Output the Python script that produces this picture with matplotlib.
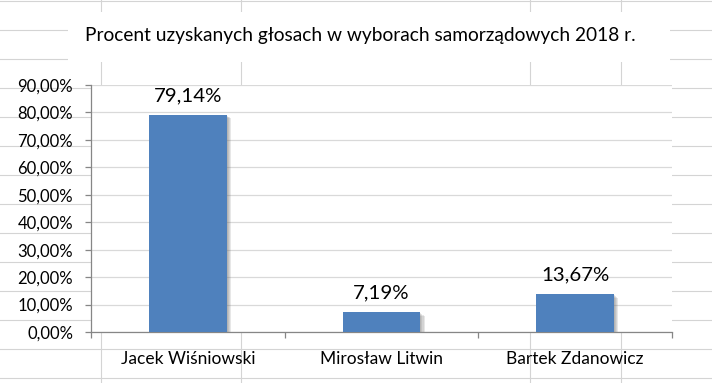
import matplotlib
matplotlib.use("Agg")
import matplotlib.pyplot as plt
import matplotlib.patheffects as pe
from matplotlib.lines import Line2D
from matplotlib.patches import Rectangle

categories = ["Jacek Wiśniowski", "Mirosław Litwin", "Bartek Zdanowicz"]
values = [79.14, 7.19, 13.67]
y_ticks = [0, 10, 20, 30, 40, 50, 60, 70, 80, 90]

W, H = 712, 383
BAR_COLOR = "#4f81bd"
GRID = "#d9d9d9"
CELL = "#d4d4d4"
AXIS = "#868686"

plt.rcParams["font.family"] = ["Lato", "DejaVu Sans"]

fig = plt.figure(figsize=(W / 100, H / 100), dpi=100)
fig.patch.set_facecolor("white")


def fx(px):
    return px / W


def fy(py):
    return 1 - py / H


def cell_line(x0, x1, y0, y1):
    fig.add_artist(Line2D([fx(x0), fx(x1)], [fy(y0), fy(y1)],
                          transform=fig.transFigure, color=CELL,
                          linewidth=0.8, zorder=-2))


# spreadsheet cell grid behind the chart
plot_l, plot_r, plot_t, plot_b = 91, 672, 85, 332
for yy in range(1, H, 29):
    if yy < 12 or yy > plot_b:
        cell_line(0, W, yy, yy)
    elif yy < 66:
        cell_line(0, 68, yy, yy)
        cell_line(670, W, yy, yy)
    else:
        cell_line(0, plot_l, yy, yy)
        cell_line(plot_r, W, yy, yy)
for xx in [101, 241, 530, 621]:
    cell_line(xx, xx, 0, 12)
    cell_line(xx, xx, 62, plot_t)
    cell_line(xx, xx, plot_b, H)

# white box behind the title
fig.add_artist(Rectangle((fx(68), fy(62)), fx(670) - fx(68), fy(12) - fy(62),
                         transform=fig.transFigure, facecolor="white",
                         edgecolor="none", zorder=-1))
fig.text(fx(360), fy(35), "Procent uzyskanych głosach w wyborach samorządowych 2018 r.",
         ha="center", va="center", fontsize=13.8, color="black")

ax = fig.add_axes([fx(plot_l), fy(plot_b), fx(plot_r) - fx(plot_l), fy(plot_t) - fy(plot_b)])
ax.set_facecolor("white")

x = list(range(len(categories)))
bars = ax.bar(x, values, width=0.4, color=BAR_COLOR, zorder=3)
# soft shadow: a few faint offset copies
shadow = [pe.SimplePatchShadow(offset=(d, -d * 0.8), shadow_rgbFace="#6f6f6f", alpha=0.16)
          for d in (3.2, 2.4, 1.6, 0.8)]
for b in bars:
    b.set_path_effects(shadow + [pe.Normal()])

for xi, v in zip(x, values):
    ax.annotate(f"{v:.2f}%".replace(".", ","), (xi, v), xytext=(0, 10),
                textcoords="offset points", ha="center", va="baseline",
                fontsize=14.7, color="black", zorder=4)

ax.set_xlim(-0.5, len(categories) - 0.5)
ax.set_ylim(0, 90)
ax.set_yticks(y_ticks)
ax.set_yticklabels([f"{t:.2f}%".replace(".", ",") for t in y_ticks])
ax.yaxis.grid(True, color=GRID, linewidth=0.9, zorder=0)
ax.set_axisbelow(True)

ax.set_xticks(x)
ax.set_xticklabels(categories)
ax.set_xticks([i - 0.5 for i in range(len(categories) + 1)], minor=True)
ax.tick_params(axis="x", which="major", length=0, pad=14, labelsize=12.5)
ax.tick_params(axis="x", which="minor", length=4, color=AXIS, width=0.9)
ax.tick_params(axis="y", length=4.3, color=AXIS, width=0.9, pad=8.5, labelsize=12)

for side in ["top", "right"]:
    ax.spines[side].set_visible(False)
for side in ["left", "bottom"]:
    ax.spines[side].set_color(AXIS)
    ax.spines[side].set_linewidth(0.9)

fig.savefig("out.png", dpi=100)
